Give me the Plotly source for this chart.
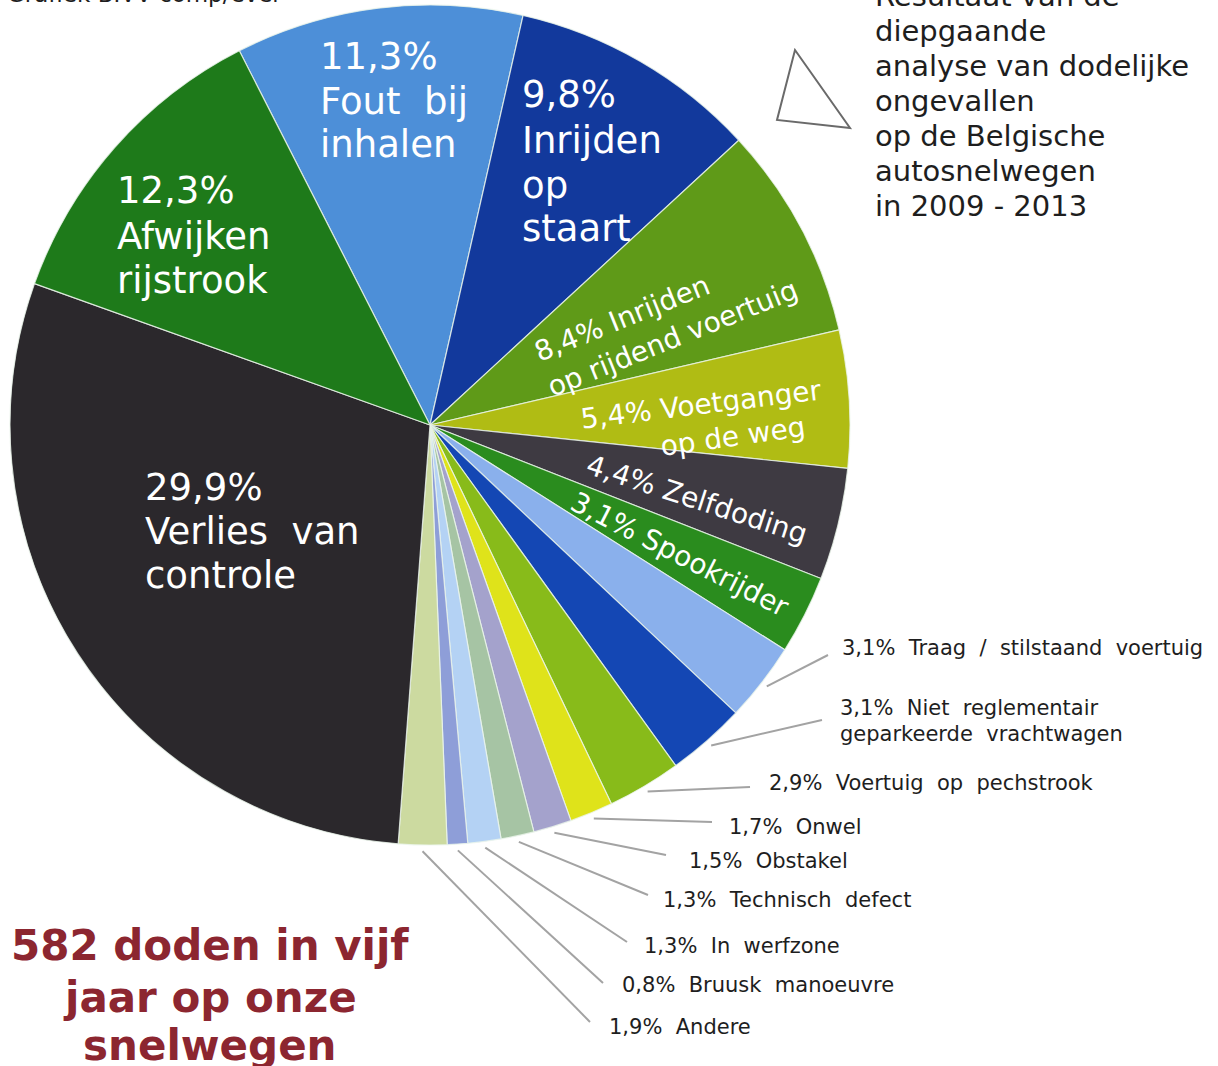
import math
import plotly.graph_objects as go

W, H = 1218, 1066

# ---------------- data ----------------
categories = [
    "Fout bij inhalen", "Inrijden op staart", "Inrijden op rijdend voertuig",
    "Voetganger op de weg", "Zelfdoding", "Spookrijder",
    "Traag / stilstaand voertuig", "Niet reglementair geparkeerde vrachtwagen",
    "Voertuig op pechstrook", "Onwel", "Obstakel", "Technisch defect",
    "In werfzone", "Bruusk manoeuvre", "Andere",
    "Verlies van controle", "Afwijken rijstrook",
]
values = [11.3, 9.8, 8.4, 5.4, 4.4, 3.1, 3.1, 3.1, 2.9, 1.7, 1.5, 1.3, 1.3, 0.8, 1.9, 29.9, 12.3]
colors = [
    "#4d8fd8", "#12399c", "#5f9a18", "#b0bc14", "#3e3a42", "#2a8c1e",
    "#8ab0ec", "#1447b4", "#88bb1a", "#dfe31a", "#a4a2cc", "#a6c4a4",
    "#b4d2f4", "#8e9ed8", "#ccdaa0", "#2b282c", "#1e7a1a",
]
title_lines = ["582 doden in vijf", "jaar op onze", "snelwegen"]
intro_lines = ["Resultaat van de", "diepgaande", "analyse van dodelijke", "ongevallen",
               "op de Belgische", "autosnelwegen", "in 2009 - 2013"]
source_text = "Grafiek BIVV comp/ever"


def pct(v):
    return f"{v:.1f}".replace(".", ",") + "%"


NB = "\u00a0"


def wide(s):
    return s.replace(" ", " " + NB)


# ---------------- geometry helpers ----------------
CX, CY, R = 430, 425, 420
ROT = -27


def px(x):
    return x / W


def py(y):
    return 1 - y / H


def mid_angle(i):
    tot = sum(values)
    before = sum(values[:i])
    return ROT + (before + values[i] / 2) / tot * 360


def edge_point(i, k=1.0):
    a = math.radians(mid_angle(i))
    return CX + k * R * math.sin(a), CY - k * R * math.cos(a)


fig = go.Figure()
fig.add_trace(go.Pie(
    labels=categories,
    values=values,
    sort=False,
    direction="clockwise",
    rotation=ROT,
    textinfo="none",
    hoverinfo="label+value",
    marker=dict(colors=colors, line=dict(color="rgba(235,245,235,0.8)", width=1.2)),
    domain=dict(x=[px(CX - R), px(CX + R)], y=[py(CY + R), py(CY - R)]),
    showlegend=False,
))

annotations = []
FONT = "DejaVu Sans"


def add_text(x, y, text, size, color="white", xanchor="left", angle=0, bold=False, yanchor="middle"):
    if bold:
        text = "<b>" + text + "</b>"
    annotations.append(dict(
        x=px(x), y=py(y), xref="paper", yref="paper", text=text, showarrow=False,
        xanchor=xanchor, yanchor=yanchor, textangle=angle,
        font=dict(family=FONT, size=size, color=color),
    ))


idx = {c: i for i, c in enumerate(categories)}

# big inside labels (stacked lines)
big = [
    ("Fout bij inhalen", ["Fout bij", "inhalen"], 318, [57, 101, 145]),
    ("Inrijden op staart", ["Inrijden", "op", "staart"], 520, [95, 140, 185, 228]),
    ("Afwijken rijstrook", ["Afwijken", "rijstrook"], 115, [190, 236, 280]),
    ("Verlies van controle", ["Verlies van", "controle"], 143, [487, 531, 575]),
]
for cat, words, x, ys in big:
    lines = [pct(values[idx[cat]])] + words
    for line, y in zip(lines, ys):
        add_text(x, y, wide(line), 37)

# rotated inside labels
rot = [
    (pct(values[idx["Inrijden op rijdend voertuig"]]) + " Inrijden", 622, 318, -22),
    ("op rijdend voertuig", 672, 338, -22),
    (pct(values[idx["Voetganger op de weg"]]) + " Voetganger", 701, 404, -7),
    ("op de weg", 733, 436, -8),
    (pct(values[idx["Zelfdoding"]]) + " Zelfdoding", 697, 499, 18),
    (pct(values[idx["Spookrijder"]]) + " Spookrijder", 680, 554, 27),
]
for t, x, y, a in rot:
    add_text(x, y, t, 28, xanchor="center", angle=a)

# outside labels with leader lines
outside = [
    ("Traag / stilstaand voertuig", (828, 655), 840, [648]),
    ("Niet reglementair geparkeerde vrachtwagen", (822, 720), 838, [708, 734]),
    ("Voertuig op pechstrook", (750, 787), 767, [783]),
    ("Onwel", (712, 822), 727, [827]),
    ("Obstakel", (666, 855), 687, [861]),
    ("Technisch defect", (648, 895), 661, [900]),
    ("In werfzone", (627, 942), 642, [946]),
    ("Bruusk manoeuvre", (603, 983), 620, [985]),
    ("Andere", (590, 1022), 607, [1027]),
]
shapes = []
for cat, end, tx, tys in outside:
    i = idx[cat]
    if cat.startswith("Niet"):
        lines = [wide(pct(values[i]) + " Niet reglementair"), wide("geparkeerde vrachtwagen")]
    else:
        lines = [wide(pct(values[i]) + " " + cat)]
    for line, ty in zip(lines, tys):
        add_text(tx, ty, line, 21, color="#1e1e1e")
    sx, sy = edge_point(i, 1.015)
    shapes.append(dict(type="line", xref="paper", yref="paper",
                       x0=px(sx), y0=py(sy), x1=px(end[0]), y1=py(end[1]),
                       line=dict(color="#a3a3a3", width=2)))

# top-right intro text
intro_y = [-4, 31, 66, 101, 136, 171, 206]
for line, y in zip(intro_lines, intro_y):
    add_text(873, y, line, 29, color="#1e1e1e")

# top-left source (cut off)
add_text(5, -6, source_text, 23, color="#1e1e1e")

# bottom title
for line, y in zip(title_lines, [945, 997, 1045]):
    add_text(210, y, line, 42, color="#8c2630", xanchor="center", bold=True)

# decorative triangle
tri = [(795, 50), (850, 128), (777, 120)]
path = "M " + " L ".join(f"{px(x)} {py(y)}" for x, y in tri) + " Z"
shapes.append(dict(type="path", xref="paper", yref="paper", path=path,
                   line=dict(color="#6a6a6a", width=2), fillcolor="rgba(0,0,0,0)"))

fig.update_layout(
    width=W, height=H,
    margin=dict(l=0, r=0, t=0, b=0),
    paper_bgcolor="white", plot_bgcolor="white",
    annotations=annotations, shapes=shapes,
    font=dict(family=FONT),
)
fig.write_html("out.html", config={"displayModeBar": False},
               post_script="document.body.style.margin='0';document.body.style.overflow='hidden';")
